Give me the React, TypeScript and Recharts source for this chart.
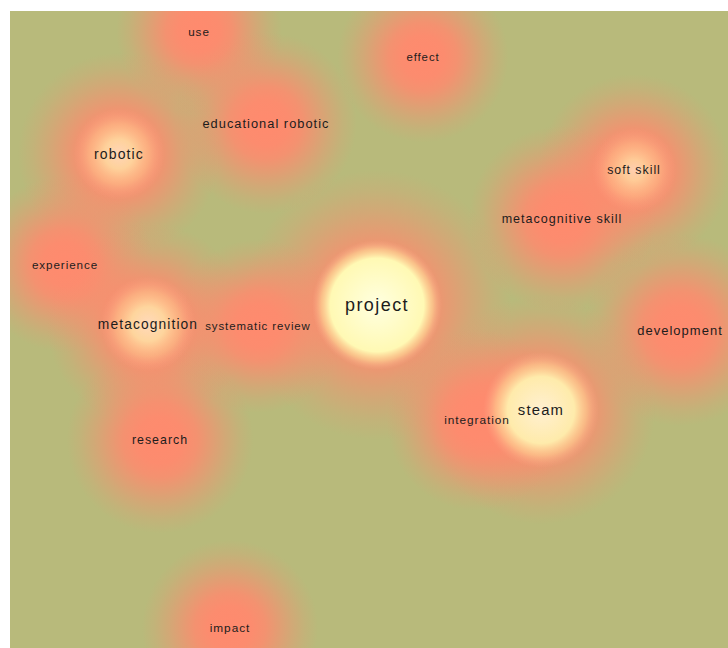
import React from 'react';
import { ScatterChart, Scatter, XAxis, YAxis } from 'recharts';

const terms = [
  'use', 'effect', 'educational robotic', 'robotic', 'soft skill', 'metacognitive skill',
  'experience', 'project', 'metacognition', 'systematic review', 'development', 'steam',
  'integration', 'research', 'impact',
];
const posX = [199, 423, 266, 119, 634, 562, 65, 377, 148, 258, 680, 541, 477, 160, 230];
const posY = [31, 57, 123, 154, 170, 219, 264, 305, 324, 326, 330, 410, 420, 440, 628];
const occurrences = [1.0, 0.6, 2.6, 4.3, 1.9, 2.2, 0.9, 10, 4.0, 0.6, 2.8, 5.5, 1.2, 2.0, 1.2];
const spread = [1.0, 1.2, 1.6, 2.4, 2.0, 1.8, 1.4, 5, 2.4, 1.3, 2.0, 3.4, 1.6, 1.8, 1.4];
const density = [0, 0, 0, 0.45, 0.35, 0, 0, 1, 0.5, 0, 0, 0.8, 0, 0, 0];

const data = terms.map((term, i) => ({
  term,
  x: posX[i],
  y: posY[i],
  occ: occurrences[i],
  spr: spread[i],
  dens: density[i],
  idx: i,
}));

const BG = '#b8ba7b';
const SALMON = '#ff8a6e';

const glowStops: [number, number][] = [
  [0, 1], [0.25, 0.96], [0.4, 0.84], [0.55, 0.6], [0.7, 0.36], [0.85, 0.15], [1, 0],
];

const Glow = (props: any) => {
  const { cx, cy, payload } = props;
  const r = 70 + payload.spr * 13;
  const id = `glow-${payload.idx}`;
  return (
    <g>
      <defs>
        <radialGradient id={id} cx="50%" cy="50%" r="50%">
          {glowStops.map(([o, a], k) => (
            <stop key={k} offset={`${o * 100}%`} stopColor={SALMON} stopOpacity={a} />
          ))}
        </radialGradient>
      </defs>
      <circle cx={cx} cy={cy} r={r} fill={`url(#${id})`} />
    </g>
  );
};

const Core = (props: any) => {
  const { cx, cy, payload } = props;
  if (!payload.dens) return <g />;
  const d = payload.dens;
  const r = 30 + d * 35;
  const p = d * 0.72;
  const id = `core-${payload.idx}`;
  return (
    <g>
      <defs>
        <radialGradient id={id} cx="50%" cy="50%" r="50%">
          <stop offset="0%" stopColor="#ffffe0" stopOpacity={1} />
          <stop offset={`${p * 100}%`} stopColor="#fff9b4" stopOpacity={1} />
          <stop offset={`${(p + (1 - p) * 0.5) * 100}%`} stopColor="#ffe49c" stopOpacity={0.55} />
          <stop offset="100%" stopColor="#ffb090" stopOpacity={0} />
        </radialGradient>
      </defs>
      <circle cx={cx} cy={cy} r={r} fill={`url(#${id})`} opacity={0.35 + 0.65 * d} />
    </g>
  );
};

const Label = (props: any) => {
  const { cx, cy, payload } = props;
  const fs = 11 + payload.occ * 0.7;
  return (
    <text
      x={cx}
      y={cy}
      textAnchor="middle"
      dominantBaseline="central"
      fontSize={fs}
      letterSpacing={fs * 0.08}
      fontFamily="'Liberation Sans', Arial, sans-serif"
      fill="#1c1c1c"
    >
      {payload.term}
    </text>
  );
};

export default function App() {
  return (
    <div
      style={{
        position: 'fixed',
        left: 10,
        top: 11,
        width: 718,
        height: 637,
        background: BG,
        overflow: 'hidden',
      }}
    >
      <ScatterChart width={718} height={637} margin={{ top: 0, right: 0, bottom: 0, left: 0 }}>
        <XAxis type="number" dataKey="x" domain={[10, 728]} hide allowDataOverflow />
        <YAxis type="number" dataKey="y" domain={[11, 648]} reversed hide allowDataOverflow />
        <Scatter data={data} shape={Glow} isAnimationActive={false} />
        <Scatter data={data} shape={Core} isAnimationActive={false} />
        <Scatter data={data} shape={Label} isAnimationActive={false} />
      </ScatterChart>
    </div>
  );
}
